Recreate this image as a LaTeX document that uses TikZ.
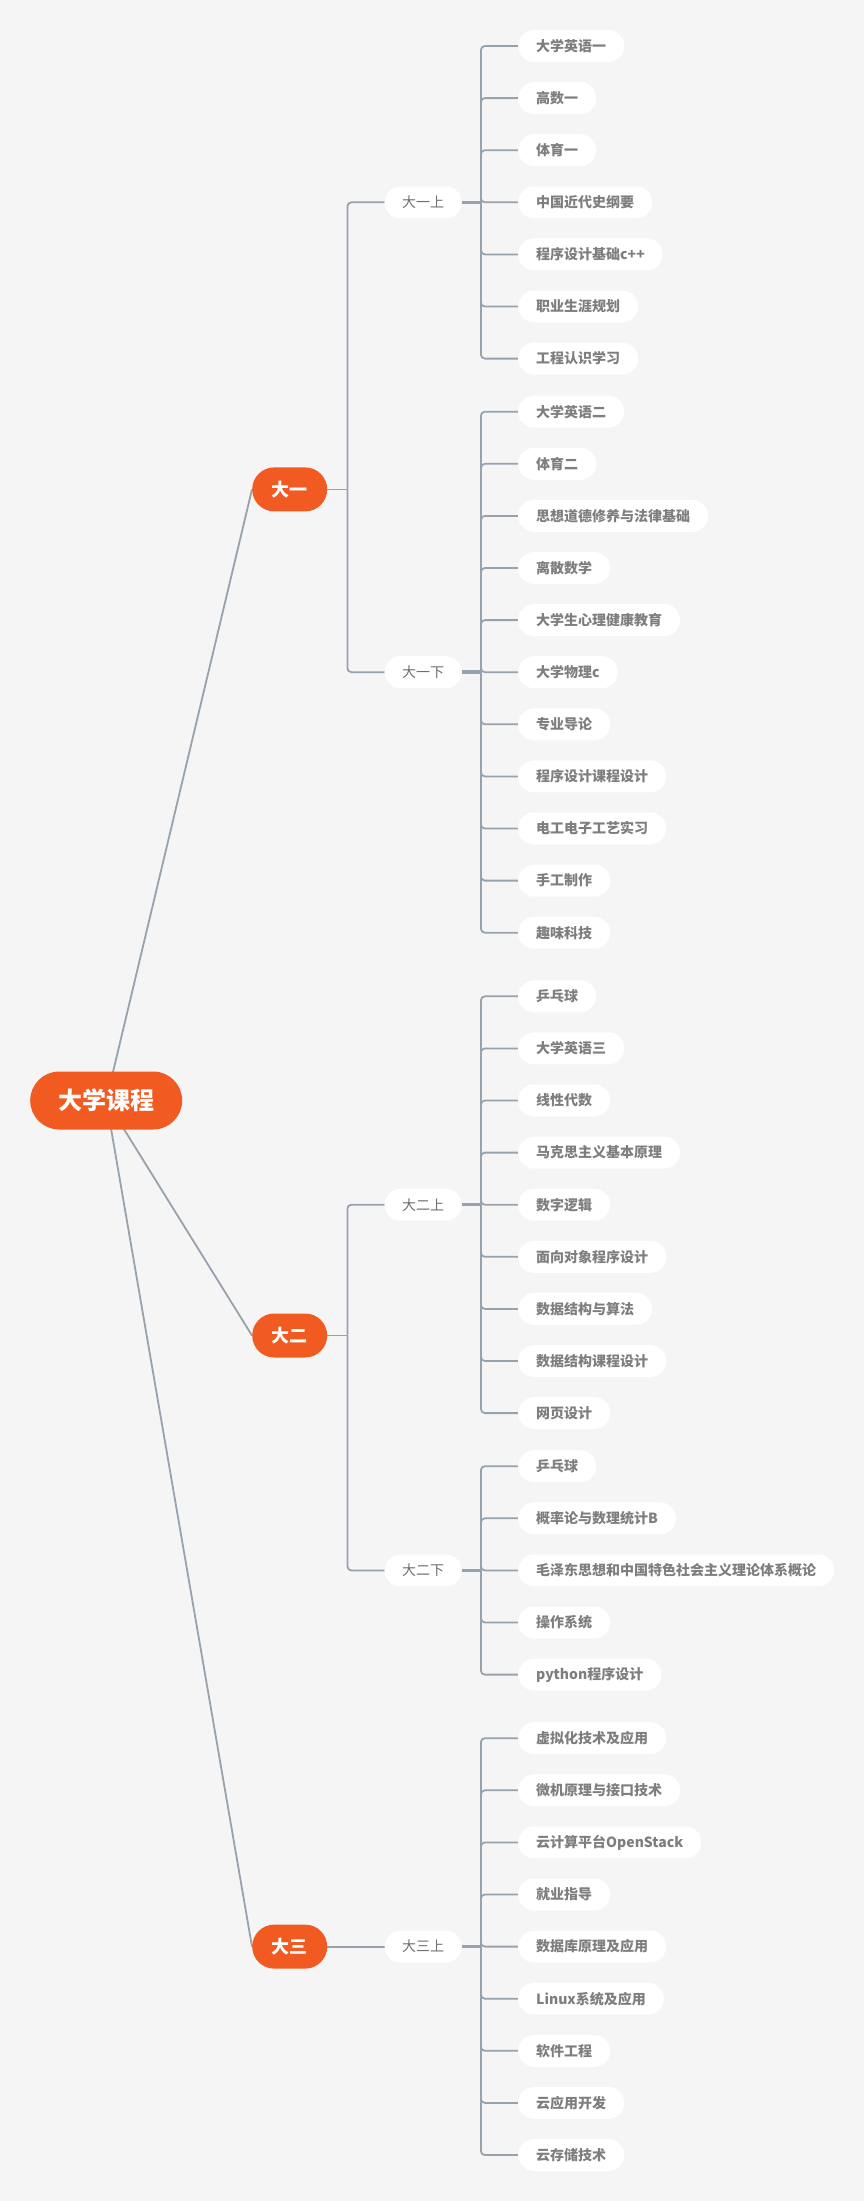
\documentclass[tikz,border=0pt]{standalone}
\usepackage{fontspec}
\setmainfont{Noto Sans CJK SC}
\definecolor{bgc}{HTML}{F5F5F5}
\definecolor{orangec}{HTML}{F15B22}
\definecolor{linec}{HTML}{98A2AC}
\definecolor{leaftxt}{HTML}{7E7E7E}
\definecolor{subtxt}{HTML}{6E6E6E}
\pgfdeclarelayer{back}
\pgfdeclarelayer{lines}
\pgfsetlayers{back,lines,main}
\tikzset{
  link/.style={draw=linec, line width=1.8pt},
  stublink/.style={draw=linec, line width=3.5pt},
  rootnode/.style={fill=orangec, text=white, rounded corners=29pt, minimum height=58pt, minimum width=152pt, inner sep=0pt, anchor=west, font=\bfseries\fontsize{24}{28}\selectfont},
  yearnode/.style={fill=orangec, text=white, rounded corners=22pt, minimum height=44pt, minimum width=75pt, inner sep=0pt, anchor=west, font=\bfseries\fontsize{18}{22}\selectfont},
  termnode/.style={fill=white, text=subtxt, rounded corners=16pt, minimum height=32pt, minimum width=77pt, inner sep=0pt, anchor=west, font=\fontsize{14}{16}\selectfont},
  leafnode/.style={fill=white, text=leaftxt, rounded corners=16pt, minimum height=32pt, inner xsep=18pt, inner ysep=0pt, anchor=west, font=\bfseries\fontsize{14}{16}\selectfont},
}
\newcommand\leafgroup[4]{%
  \coordinate (#1c) at ([xshift=19pt]#2.east);
  \begin{pgfonlayer}{lines}\draw[stublink] (#2.east) -- (#1c);\end{pgfonlayer}
  \foreach \t [count=\i] in {#4} {
    \node[leafnode] (#1-\i) at (518,{#3+52.1*(\i-1)}) {\t};
    \begin{pgfonlayer}{lines}\draw[link,rounded corners=4pt] (#1c) |- (#1-\i.west);\end{pgfonlayer}
  }%
}
\newcommand\yearlink[2]{%
  \coordinate (#1b) at ([xshift=20pt]#1.east);
  \begin{pgfonlayer}{lines}
  \draw[link] (#1.east) -- (#1b);
  \foreach \s in {#2} {\draw[link,rounded corners=4pt] (#1b) |- (\s.west);}
  \end{pgfonlayer}%
}
\begin{document}
\begin{tikzpicture}[x=1pt,y=-1pt]
\begin{pgfonlayer}{back}
\fill[bgc] (0,0) rectangle (864,2201);
\end{pgfonlayer}
\useasboundingbox (0,0) rectangle (864,2201);

\node[rootnode] (root) at (30,1100.5) {大学课程};

\node[yearnode] (y1) at (252,489.4) {大一};
\node[yearnode] (y2) at (252,1335.5) {大二};
\node[yearnode] (y3) at (252,1946.6) {大三};

\node[termnode] (t1) at (384.5,202.3) {大一上};
\node[termnode] (t2) at (384.5,672.2) {大一下};
\node[termnode] (t3) at (384.5,1204.7) {大二上};
\node[termnode] (t4) at (384.5,1570.4) {大二下};
\node[termnode] (t5) at (384.5,1946.6) {大三上};

\begin{pgfonlayer}{lines}
\draw[link] (root.center) -- (y1.west);
\draw[link] (root.center) -- (y2.west);
\draw[link] (root.center) -- (y3.west);
\draw[link] (y3.east) -- (t5.west);
\end{pgfonlayer}
\yearlink{y1}{t1,t2}
\yearlink{y2}{t3,t4}

\leafgroup{a}{t1}{46}{大学英语一,高数一,体育一,中国近代史纲要,程序设计基础c++,职业生涯规划,工程认识学习}
\leafgroup{b}{t2}{411.7}{大学英语二,体育二,思想道德修养与法律基础,离散数学,大学生心理健康教育,大学物理c,专业导论,程序设计课程设计,电工电子工艺实习,手工制作,趣味科技}
\leafgroup{c}{t3}{996.3}{乒乓球,大学英语三,线性代数,马克思主义基本原理,数字逻辑,面向对象程序设计,数据结构与算法,数据结构课程设计,网页设计}
\leafgroup{d}{t4}{1466.2}{乒乓球,概率论与数理统计B,毛泽东思想和中国特色社会主义理论体系概论,操作系统,python程序设计}
\leafgroup{e}{t5}{1738.2}{虚拟化技术及应用,微机原理与接口技术,云计算平台OpenStack,就业指导,数据库原理及应用,Linux系统及应用,软件工程,云应用开发,云存储技术}
\end{tikzpicture}
\end{document}
